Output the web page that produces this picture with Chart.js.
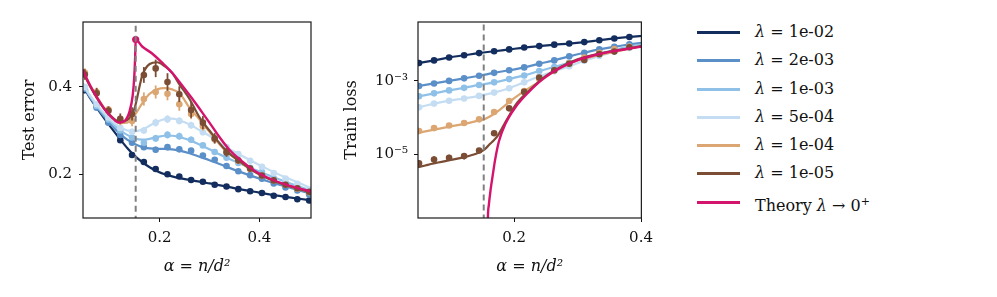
<!DOCTYPE html>
<html><head><meta charset="utf-8">
<script src="https://cdn.jsdelivr.net/npm/chart.js@4/dist/chart.umd.min.js"></script>
<style>
html,body{margin:0;padding:0;background:#fff;}
#wrap{position:relative;width:997px;height:297px;overflow:hidden;font-family:'DejaVu Serif',serif;}
canvas{position:absolute;top:0;}
#legend{position:absolute;left:697px;top:0;width:300px;height:297px;}
.row{position:absolute;left:0;height:22px;width:290px;}
.sw{position:absolute;left:0;top:10px;width:43px;height:3px;}
.lb{position:absolute;left:58px;top:0;font-size:16px;line-height:22px;color:#111;white-space:nowrap;}
</style></head><body>
<div id="wrap">
<canvas id="c1" width="330" height="297" style="left:0"></canvas>
<canvas id="c2" width="330" height="297" style="left:330px"></canvas>
<div id="legend"></div>
</div>
<script>
const FONT = 'DejaVu Serif';
const lambdaLabels = ['1e-02','2e-03','1e-03','5e-04','1e-04','1e-05'];
const seriesColors = ['#132e5e','#5a8fc8','#8fc1e8','#c4ddf2','#dca672','#7b4d35'];
const theoryColor = '#d4136c';
const theoryLabel = 'Theory';
const alphaC = 0.152;
const xTicksLeft = [0.2, 0.4];
const xTicksRight = [0.2, 0.4];
const yTicksLeft = [0.2, 0.4];
const yTicksRight = [1e-5, 1e-3];

// simulation alphas
const alphaGrid = [0.05,0.0737,0.0974,0.1211,0.1447,0.1684,0.1921,0.2158,0.2395,0.2632,0.2868,0.3105,0.3342,0.3579,0.3816,0.4053,0.4289,0.4526,0.4763,0.5];
// theory curve alphas (test error)
const lineAlpha = [0.045,0.06,0.075,0.09,0.105,0.12,0.135,0.15,0.165,0.18,0.195,0.21,0.225,0.24,0.26,0.28,0.30,0.33,0.36,0.39,0.42,0.45,0.48,0.505];

// ---- Test error: theory lines ----
const testLine_1e2 = [0.405,0.375,0.350,0.326,0.303,0.281,0.260,0.242,0.228,0.216,0.207,0.200,0.195,0.191,0.187,0.183,0.179,0.173,0.166,0.160,0.154,0.149,0.144,0.140];
const testLine_2e3 = [0.405,0.377,0.352,0.330,0.310,0.293,0.279,0.269,0.262,0.259,0.258,0.258,0.257,0.254,0.248,0.240,0.232,0.219,0.206,0.194,0.183,0.173,0.163,0.155];
const testLine_1e3 = [0.407,0.379,0.355,0.334,0.316,0.301,0.290,0.282,0.279,0.281,0.285,0.288,0.288,0.285,0.278,0.268,0.257,0.240,0.225,0.211,0.197,0.184,0.172,0.162];
const testLine_5e4 = [0.408,0.381,0.358,0.338,0.321,0.308,0.300,0.298,0.302,0.311,0.320,0.326,0.327,0.323,0.314,0.301,0.288,0.265,0.245,0.227,0.210,0.194,0.180,0.167];
const testLine_1e4 = [0.438,0.405,0.376,0.350,0.330,0.317,0.318,0.335,0.362,0.384,0.394,0.397,0.394,0.385,0.352,0.325,0.297,0.256,0.229,0.206,0.189,0.176,0.166,0.159];
const testLine_1e5 = [0.436,0.402,0.373,0.348,0.330,0.320,0.324,0.352,0.425,0.452,0.456,0.447,0.432,0.405,0.372,0.330,0.300,0.258,0.230,0.206,0.189,0.176,0.166,0.158];
const pinkTestAlpha = [0.045,0.06,0.075,0.09,0.105,0.118,0.13,0.14,0.146,0.149,0.151,0.152,0.165,0.185,0.205,0.225,0.246,0.266,0.285,0.30,0.32,0.34,0.365,0.392,0.425,0.46,0.505];
const pinkTest = [0.440,0.404,0.374,0.348,0.329,0.318,0.322,0.345,0.38,0.42,0.47,0.508,0.492,0.476,0.455,0.432,0.402,0.372,0.342,0.318,0.285,0.256,0.230,0.207,0.188,0.174,0.160];

// ---- Test error: simulations ----
const testPts_1e2 = [0.392,0.355,0.319,0.278,0.244,0.228,0.212,0.200,0.195,0.187,0.183,0.176,0.172,0.166,0.161,0.157,0.151,0.148,0.143,0.140];
const testPts_2e3 = [0.395,0.352,0.318,0.290,0.272,0.262,0.256,0.262,0.257,0.254,0.243,0.233,0.219,0.207,0.198,0.190,0.179,0.170,0.163,0.154];
const testPts_1e3 = [0.398,0.356,0.325,0.300,0.284,0.272,0.282,0.290,0.287,0.279,0.266,0.251,0.238,0.226,0.215,0.205,0.191,0.181,0.172,0.160];
const testPts_5e4 = [0.400,0.360,0.330,0.306,0.297,0.300,0.318,0.326,0.322,0.312,0.296,0.279,0.262,0.246,0.231,0.217,0.203,0.190,0.178,0.165];
const testPts_1e4 = [0.432,0.388,0.348,0.322,0.322,0.372,0.388,0.384,0.360,0.338,0.310,0.280,0.252,0.231,0.212,0.197,0.186,0.176,0.167,0.159];
const testPts_1e5 = [0.428,0.385,0.345,0.327,0.338,0.427,0.442,0.411,0.383,0.347,0.318,0.282,0.250,0.232,0.213,0.197,0.186,0.176,0.168,0.160];
const testErr_2e3 = [0.003,0.003,0.003,0.004,0.005,0.006,0.007,0.007,0.007,0.006,0.005,0.004,0.004,0.003,0.003,0.003,0.002,0.002,0.002,0.002];
const testErr_1e3 = [0.003,0.003,0.004,0.004,0.006,0.007,0.008,0.008,0.008,0.007,0.006,0.005,0.004,0.004,0.003,0.003,0.003,0.002,0.002,0.002];
const testErr_5e4 = [0.003,0.004,0.004,0.005,0.007,0.008,0.009,0.009,0.008,0.008,0.007,0.006,0.005,0.004,0.004,0.003,0.003,0.003,0.002,0.002];
const testErr_1e4 = [0.010,0.010,0.008,0.010,0.012,0.015,0.015,0.015,0.015,0.012,0.010,0.008,0.007,0.006,0.005,0.005,0.004,0.004,0.004,0.004];
const testErr_1e5 = [0.012,0.012,0.010,0.012,0.015,0.018,0.020,0.020,0.018,0.018,0.015,0.012,0.010,0.008,0.007,0.006,0.005,0.005,0.004,0.004];

// ---- Train loss (log) ----
const train_1e2 = [3.09e-3,3.63e-3,4.37e-3,5.01e-3,5.75e-3,6.46e-3,7.24e-3,8.13e-3,8.91e-3,9.77e-3,1.047e-2,1.148e-2,1.288e-2,1.445e-2,1.585e-2,1.70e-2];
const train_2e3 = [7.24e-4,8.51e-4,1.0e-3,1.175e-3,1.38e-3,1.66e-3,1.95e-3,2.34e-3,2.95e-3,3.63e-3,4.68e-3,5.89e-3,7.24e-3,8.51e-3,1.0e-2,1.12e-2];
const train_1e3 = [3.80e-4,4.57e-4,5.50e-4,6.46e-4,7.76e-4,9.12e-4,1.12e-3,1.41e-3,1.86e-3,2.40e-3,3.16e-3,4.17e-3,5.50e-3,7.08e-3,8.71e-3,1.02e-2];
const train_5e4 = [1.91e-4,2.40e-4,2.88e-4,3.31e-4,3.89e-4,4.79e-4,6.31e-4,9.12e-4,1.32e-3,1.82e-3,2.51e-3,3.55e-3,4.79e-3,6.31e-3,7.94e-3,9.55e-3];
const trainPts_1e4 = [4.27e-5,5.13e-5,6.03e-5,7.08e-5,8.91e-5,1.41e-4,2.82e-4,5.25e-4,1.12e-3,1.91e-3,3.02e-3,4.37e-3,5.89e-3,7.41e-3,8.51e-3];
const trainPts_1e5 = [5.62e-6,7.08e-6,7.94e-6,8.91e-6,1.26e-5,3.72e-5,1.78e-4,5.01e-4,1.23e-3,1.95e-3,2.95e-3,3.72e-3,5.37e-3,6.31e-3,8.32e-3];
const trainErr_1e5 = [1.3e-6,1.6e-6,1.6e-6,1.8e-6,1.5e-6,4e-6,0,0,0,0,0,0,0,0,0];
const trainLineAlpha_1e4 = [0.048,0.06,0.08,0.10,0.12,0.14,0.155,0.165,0.175,0.185,0.195,0.21,0.225,0.24,0.26,0.28,0.30,0.33,0.36,0.401];
const trainLine_1e4 = [3.80e-5,4.17e-5,4.90e-5,5.75e-5,6.61e-5,7.94e-5,9.33e-5,1.15e-4,1.51e-4,2.09e-4,2.88e-4,4.47e-4,6.61e-4,9.55e-4,1.70e-3,2.60e-3,3.60e-3,4.90e-3,6.30e-3,8.91e-3];
const trainLineAlpha_1e5 = [0.048,0.06,0.08,0.10,0.12,0.14,0.15,0.156,0.162,0.168,0.174,0.18,0.186,0.192,0.202,0.222,0.248,0.274,0.30,0.33,0.36,0.401];
const trainLine_1e5 = [4.37e-6,4.90e-6,5.89e-6,6.92e-6,8.13e-6,1.02e-5,1.23e-5,1.48e-5,1.91e-5,2.40e-5,3.16e-5,4.79e-5,7.41e-5,1.12e-4,2.19e-4,5.13e-4,1.29e-3,2.45e-3,3.89e-3,5.37e-3,6.76e-3,8.91e-3];
const pinkTrainAlpha = [0.157,0.1585,0.160,0.163,0.166,0.170,0.176,0.186,0.202,0.222,0.248,0.274,0.30,0.326,0.352,0.377,0.401];
const pinkTrain = [1e-9,1.6e-7,4.0e-7,1.12e-6,2.51e-6,7.08e-6,2.24e-5,6.61e-5,1.91e-4,4.79e-4,1.23e-3,2.34e-3,3.72e-3,5.01e-3,6.31e-3,7.41e-3,8.71e-3];

const zip = (xs, ys) => ys.map((y, i) => ({x: xs[i], y}));

const errorBarPlugin = {
  id: 'errbars',
  beforeDatasetDraw(chart, args) {
    const ds = chart.data.datasets[args.index];
    if (!ds.errors) return;
    const ctx = chart.ctx, a = chart.chartArea, ys = chart.scales.y;
    ctx.save();
    ctx.beginPath(); ctx.rect(a.left, a.top, a.right - a.left, a.bottom - a.top); ctx.clip();
    ctx.strokeStyle = ds.pointBackgroundColor; ctx.lineWidth = 1.8;
    args.meta.data.forEach((pt, i) => {
      const e = ds.errors[i]; if (!e) return;
      const v = ds.data[i].y;
      const lo = Math.max(v - e, v * 0.05);
      const y1 = ys.getPixelForValue(lo), y2 = ys.getPixelForValue(v + e);
      ctx.beginPath(); ctx.moveTo(pt.x, y1); ctx.lineTo(pt.x, y2); ctx.stroke();
    });
    ctx.restore();
  }
};
const framePlugin = {
  id: 'frame',
  afterDraw(chart) {
    const {ctx, chartArea: a} = chart;
    ctx.save(); ctx.strokeStyle = '#1a1a1a'; ctx.lineWidth = 1.2;
    ctx.strokeRect(a.left, a.top, a.right - a.left, a.bottom - a.top);
    ctx.restore();
  }
};

function lineDS(data, color, order, width) {
  return {data, borderColor: color, backgroundColor: color, borderWidth: width || 2.2, pointRadius: 0,
    showLine: true, cubicInterpolationMode: 'monotone', fill: false, order, clip: 0};
}
function ptsDS(data, color, order, errors) {
  return {data, showLine: false, pointRadius: 3.3, pointBackgroundColor: color, pointBorderWidth: 0,
    borderColor: color, order, clip: 0, errors};
}
function dashedDS(y0, y1) {
  return {data: [{x: alphaC, y: y0}, {x: alphaC, y: y1}], borderColor: '#808080', borderWidth: 2,
    borderDash: [6, 4], pointRadius: 0, showLine: true, order: 0, clip: 0};
}
const sup = s => s.replace(/-/g, '⁻').replace(/\d/g, d => '⁰¹²³⁴⁵⁶⁷⁸⁹'[d]);

function xScale(min, max, ticks) {
  return {
    type: 'linear', min, max,
    afterBuildTicks: s => { s.ticks = ticks.map(v => ({value: v})); },
    ticks: {callback: v => Number(v).toFixed(1), font: {family: FONT, size: 15}, color: '#111', padding: 7, maxRotation: 0, autoSkip: false},
    grid: {display: true, drawOnChartArea: false, drawTicks: true, tickLength: 4, color: '#111', lineWidth: 1},
    border: {display: false},
    title: {display: true, text: 'α = n/d²', font: {family: FONT, size: 16, style: 'italic'}, color: '#111', padding: {top: 0, bottom: 21}},
    afterFit: s => { s.height = 79; }
  };
}
function yScale(opts) {
  return Object.assign({
    grid: {display: true, drawOnChartArea: false, drawTicks: true, tickLength: 4, color: '#111', lineWidth: 1},
    border: {display: false},
  }, opts);
}
const common = {
  responsive: false, animation: false, events: [], devicePixelRatio: 1,
  plugins: {legend: {display: false}, tooltip: {enabled: false}},
};

const leftData = [
  lineDS(zip(lineAlpha, testLine_1e2), seriesColors[0], 40),
  ptsDS(zip(alphaGrid, testPts_1e2), seriesColors[0], 39),
  lineDS(zip(lineAlpha, testLine_2e3), seriesColors[1], 38),
  ptsDS(zip(alphaGrid, testPts_2e3), seriesColors[1], 37, testErr_2e3),
  lineDS(zip(lineAlpha, testLine_1e3), seriesColors[2], 36),
  ptsDS(zip(alphaGrid, testPts_1e3), seriesColors[2], 35, testErr_1e3),
  lineDS(zip(lineAlpha, testLine_5e4), seriesColors[3], 34),
  ptsDS(zip(alphaGrid, testPts_5e4), seriesColors[3], 33, testErr_5e4),
  lineDS(zip(lineAlpha, testLine_1e4), seriesColors[4], 32),
  ptsDS(zip(alphaGrid, testPts_1e4), seriesColors[4], 31, testErr_1e4),
  lineDS(zip(lineAlpha, testLine_1e5), seriesColors[5], 30),
  ptsDS(zip(alphaGrid, testPts_1e5), seriesColors[5], 29, testErr_1e5),
  lineDS(zip(pinkTestAlpha, pinkTest), theoryColor, 3, 2.4),
  ptsDS([{x: pinkTestAlpha[11], y: pinkTest[11]}], theoryColor, 2),
  dashedDS(0, 1)
];
leftData[13].pointRadius = 3.6;

new Chart(document.getElementById('c1'), {
  type: 'scatter',
  data: {datasets: leftData},
  options: Object.assign({}, common, {
    layout: {padding: {top: 22, right: 19, left: 0, bottom: 0}},
    scales: {
      x: xScale(0.0463, 0.5037, xTicksLeft),
      y: yScale({type: 'linear', min: 0.1, max: 0.548,
        afterBuildTicks: s => { s.ticks = yTicksLeft.map(v => ({value: v})); },
        ticks: {callback: v => Number(v).toFixed(1), font: {family: FONT, size: 15}, color: '#111', padding: 7},
        title: {display: true, text: 'Test error', font: {family: FONT, size: 16}, color: '#111', padding: {top: 20, bottom: 0}},
        afterFit: s => { s.width = 83; }
      })
    }
  }),
  plugins: [errorBarPlugin, framePlugin]
});

const gridR = alphaGrid.slice(0, 16);
const gridRp = alphaGrid.slice(0, 15);
const blueLP = (vals, color, order) => {
  const d = lineDS(zip(gridR, vals), color, order);
  d.pointRadius = 3.3; d.pointBackgroundColor = color; d.pointBorderWidth = 0; d.cubicInterpolationMode = 'monotone';
  return d;
};
const rightData = [
  blueLP(train_1e2, seriesColors[0], 40),
  blueLP(train_2e3, seriesColors[1], 38),
  blueLP(train_1e3, seriesColors[2], 36),
  blueLP(train_5e4, seriesColors[3], 34),
  lineDS(zip(trainLineAlpha_1e4, trainLine_1e4), seriesColors[4], 32),
  ptsDS(zip(gridRp, trainPts_1e4), seriesColors[4], 31),
  lineDS(zip(trainLineAlpha_1e5, trainLine_1e5), seriesColors[5], 30),
  ptsDS(zip(gridRp, trainPts_1e5), seriesColors[5], 29, trainErr_1e5),
  lineDS(zip(pinkTrainAlpha, pinkTrain), theoryColor, 3, 2.4),
  dashedDS(1e-9, 1)
];

new Chart(document.getElementById('c2'), {
  type: 'scatter',
  data: {datasets: rightData},
  options: Object.assign({}, common, {
    layout: {padding: {top: 22, right: 15, left: 0, bottom: 0}},
    scales: {
      x: xScale(0.0484, 0.4005, xTicksRight),
      y: yScale({type: 'logarithmic', min: 1.8e-7, max: 4.06e-2,
        afterBuildTicks: s => { s.ticks = yTicksRight.map(v => ({value: v})); },
        ticks: {callback: v => '10' + sup(String(Math.round(Math.log10(v)))), font: {family: FONT, size: 15}, color: '#111', padding: 6},
        title: {display: true, text: 'Train loss', font: {family: FONT, size: 16}, color: '#111', padding: {top: 12, bottom: 0}},
        afterFit: s => { s.width = 88; }
      })
    }
  }),
  plugins: [errorBarPlugin, framePlugin]
});

// legend (HTML, real text)
const legend = document.getElementById('legend');
const rowCenters = [32.3, 60.7, 89, 117.3, 145.6, 173.9, 202.3];
const entries = lambdaLabels.map((l, i) => ({html: '<i>λ</i> = ' + l, color: seriesColors[i]}));
entries.push({html: theoryLabel + ' <i>λ</i> → 0<sup style="font-size:11px">+</sup>', color: theoryColor});
entries.forEach((e, i) => {
  const row = document.createElement('div');
  row.className = 'row';
  row.style.top = (rowCenters[i] - 11.5) + 'px';
  row.innerHTML = '<div class="sw" style="background:' + e.color + '"></div><div class="lb">' + e.html + '</div>';
  legend.appendChild(row);
});
</script>
</body></html>
